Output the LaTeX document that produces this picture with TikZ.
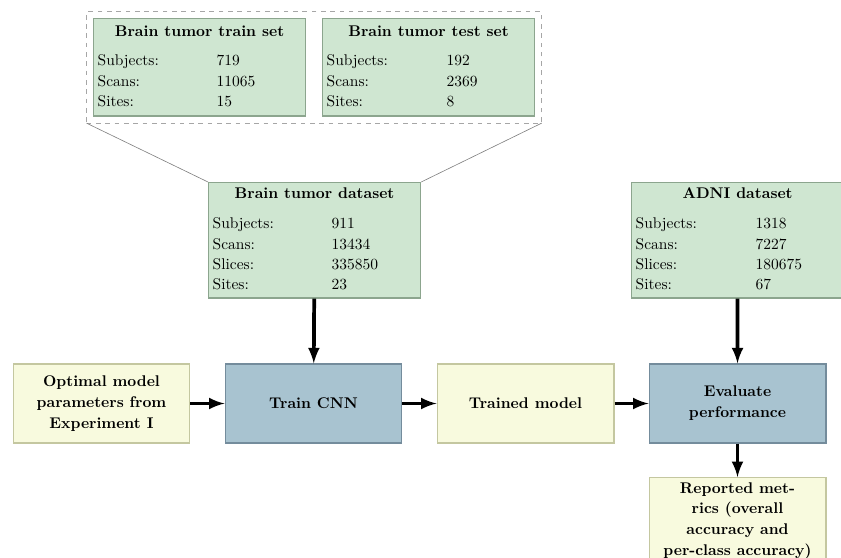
\documentclass[tikz,border=0pt]{standalone}
\usepackage{tikz}
\usetikzlibrary{arrows,fit,positioning,calc}
\linespread{1.1}
\definecolor{setgreen}{RGB}{207,230,209}
\definecolor{setgreenline}{RGB}{140,165,142}
\definecolor{stepyellow}{RGB}{248,250,222}
\definecolor{stepyellowline}{RGB}{196,199,160}
\definecolor{stepblue}{RGB}{168,195,208}
\definecolor{stepblueline}{RGB}{116,140,156}

\begin{document}
\begin{tikzpicture}[x=0.645pt, y=-0.645pt]
   \useasboundingbox (0,0) rectangle (841,557);
   \begin{scope}[every node/.style={draw=setgreenline,fill=setgreen,thick,anchor=north west,inner xsep=2.6pt,inner ysep=1.2pt}]
    \node (train) [inner ysep=2pt] at (93,18) {\begin{tabular}{@{}p{76.8pt}@{}p{54.7pt}@{}}
      \multicolumn{2}{@{}c@{}}{\textbf{Brain tumor train set}}\\[6pt]
      Subjects: & 719\\ Scans: & 11065\\ Sites: & 15
     \end{tabular}};
    \node (test) [inner ysep=2pt] at (322,18) {\begin{tabular}{@{}p{77.4pt}@{}p{54.1pt}@{}}
      \multicolumn{2}{@{}c@{}}{\textbf{Brain tumor test set}}\\[6pt]
      Subjects: & 192\\ Scans: & 2369\\ Sites: & 8
     \end{tabular}};
    \node (bt) at (208,182) {\begin{tabular}{@{}p{76.8pt}@{}p{54.7pt}@{}}
      \multicolumn{2}{@{}c@{}}{\textbf{Brain tumor dataset}}\\[6pt]
      Subjects: & 911\\ Scans: & 13434\\ Slices: & 335850\\ Sites: & 23
     \end{tabular}};
    \node (adni) at (631,182) {\begin{tabular}{@{}p{77.4pt}@{}p{54.1pt}@{}}
      \multicolumn{2}{@{}c@{}}{\textbf{ADNI dataset}}\\[6pt]
      Subjects: & 1318\\ Scans: & 7227\\ Slices: & 180675\\ Sites: & 67
     \end{tabular}};
   \end{scope}
   \node [draw=gray!70,dashed,fit=(train)(test),inner sep=4pt] (split) {};
   \draw [gray] (split.south west) -- (bt.north west);
   \draw [gray] (split.south east) -- (bt.north east);
   \begin{scope}[every node/.style={draw=stepyellowline,fill=stepyellow,thick,minimum width=114pt,minimum height=51pt,align=center,font=\bfseries\linespread{1.12}\selectfont}]
    \node (opt) at (101.5,403.5) {Optimal model\\parameters from\\Experiment I};
    \node (cnn) [draw=stepblueline,fill=stepblue] at (313.5,403.5) {Train CNN};
    \node (model) at (525.5,403.5) {Trained model};
    \node (eval) [draw=stepblueline,fill=stepblue] at (737.5,403.5) {Evaluate\\performance};
    \node (report) [anchor=north,inner ysep=3pt] at (737.5,477) {Reported met-\\rics (overall\\accuracy and\\per-class accuracy)};
   \end{scope}
   \begin{scope}[-latex,line width=2.4pt]
    \draw (bt) edge (cnn);
    \draw (adni) edge (eval);
    \draw (opt) edge (cnn);
    \draw (cnn) edge (model);
    \draw (model) edge (eval);
    \draw (eval) edge (report);
   \end{scope}
\end{tikzpicture}
\end{document}
